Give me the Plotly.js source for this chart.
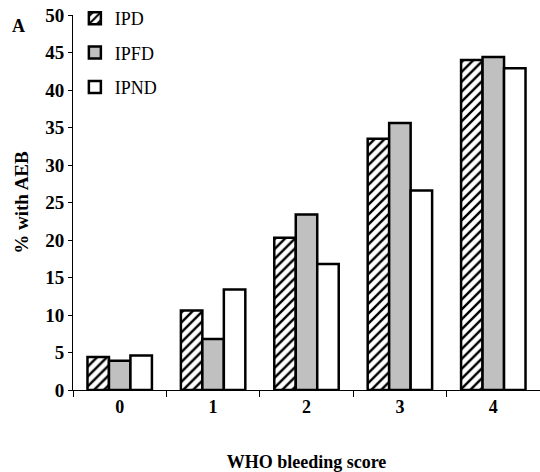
<!DOCTYPE html>
<html><head><meta charset="utf-8">
<script src="https://cdn.plot.ly/plotly-3.0.1.min.js"></script>
<style>body{margin:0;background:#fff}#chart{width:540px;height:472px}</style>
</head><body><div id="chart"></div>
<script>
const categories = ["0", "1", "2", "3", "4"];
const seriesNames = ["IPD", "IPFD", "IPND"];
const ipd  = [4.4, 10.6, 20.3, 33.5, 44.0];
const ipfd = [3.9, 6.8, 23.4, 35.6, 44.4];
const ipnd = [4.6, 13.4, 16.8, 26.6, 42.9];
const yTicks = [0, 5, 10, 15, 20, 25, 30, 35, 40, 45, 50];

const font = "Liberation Serif, Times New Roman, serif";
const line = {color: "#000", width: 2.5};
const traces = [
  {type: "bar", name: seriesNames[0], x: categories, y: ipd, legendgroup: "a",
   marker: {color: "#fff", line: line, pattern: {shape: "/", fgcolor: "#000", bgcolor: "#fff", size: 7, solidity: 0.35}}},
  {type: "bar", name: seriesNames[1], x: categories, y: ipfd, legendgroup: "b",
   marker: {color: "#c0c0c0", line: line}},
  {type: "bar", name: seriesNames[2], x: categories, y: ipnd, legendgroup: "c",
   marker: {color: "#fff", line: line}}
];
const layout = {
  width: 540, height: 472,
  margin: {l: 73, r: 0, t: 15, b: 82},
  paper_bgcolor: "#fff", plot_bgcolor: "#fff",
  font: {family: font, color: "#000"},
  barmode: "group", bargap: 0.31, bargroupgap: 0,
  showlegend: true,
  legend: {x: 0.004, y: 1.04, xanchor: "left", yanchor: "top", traceorder: "grouped",
           tracegroupgap: 8, font: {size: 18, family: font}, bgcolor: "rgba(0,0,0,0)"},
  xaxis: {type: "category", tickson: "boundaries", ticks: "outside", ticklen: 6, tickcolor: "#000",
          showline: true, linecolor: "#000", linewidth: 1, showgrid: false,
          tickfont: {size: 18, family: font, weight: "bold"},
          title: {text: "<b>WHO bleeding score</b>", font: {size: 18, family: font}, standoff: 40}},
  yaxis: {range: [0, 50], tickvals: yTicks, ticks: "outside", ticklen: 4, tickcolor: "#000",
          showline: true, linecolor: "#000", linewidth: 1, showgrid: false, zeroline: false,
          tickfont: {size: 19, family: font, weight: "bold"},
          title: {text: "<b>% with AEB</b>", font: {size: 19, family: font}, standoff: 11}},
  annotations: [{text: "<b>A</b>", xref: "paper", yref: "paper", x: -0.135, y: 0.97, xanchor: "left",
                 yanchor: "middle", showarrow: false, font: {size: 18, family: font}}]
};
Plotly.newPlot("chart", traces, layout, {displayModeBar: false, staticPlot: true});
</script></body></html>
